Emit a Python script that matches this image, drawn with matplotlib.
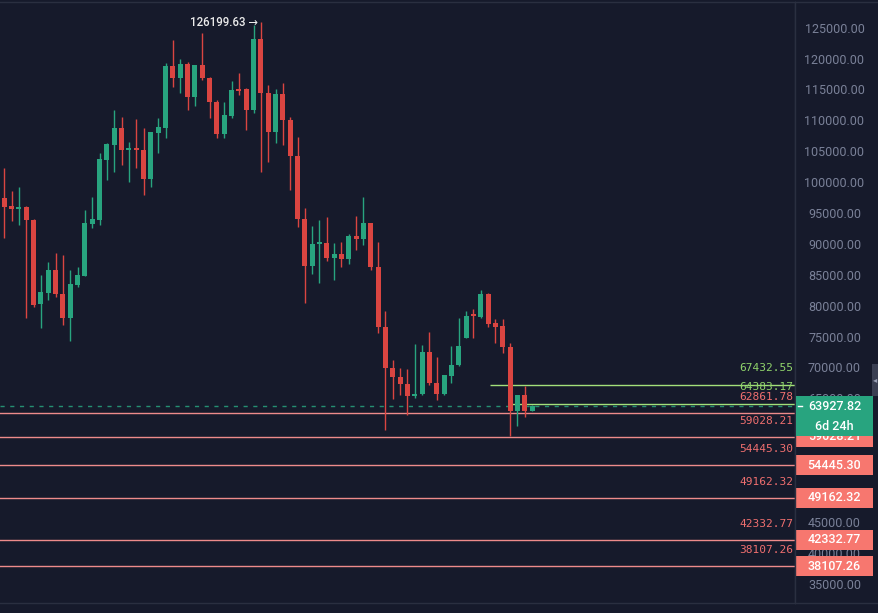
import numpy as np
import matplotlib.pyplot as plt
from matplotlib.patches import Rectangle

# daily candles, oldest first
opens = [97680, 96380, 95930, 96270, 94160, 80520, 82300, 86020, 82190, 78300,
         83600, 85050, 93470, 94120, 103830, 106260, 109010, 105450, 105770, 105500,
         100750, 108250, 109060, 119090, 117150, 119370, 114030, 119210, 117150, 113270,
         108040, 110950, 115320, 115270, 111920, 123370, 114720, 108410, 114480, 110300,
         104520, 94230, 86720, 90230, 90440, 88010, 88610, 87800, 91570, 90960,
         93680, 86510, 76840, 70210, 68750, 67520, 65680, 65950, 72750, 67780,
         65900, 68860, 70640, 75060, 78900, 78460, 82140, 77490, 76960, 73610,
         63250, 65790, 63250]
highs = [102530, 98780, 99460, 96410, 94280, 85260, 87370, 88730, 88420, 86020,
         86510, 95730, 97840, 104910, 106530, 111920, 110740, 106790, 110460, 108960,
         108410, 110580, 119480, 123250, 120130, 119740, 119210, 124430, 117310, 113540,
         113270, 116660, 117860, 115430, 125730, 126199.63, 115890, 115290, 116340, 110740,
         107500, 96010, 93140, 94120, 94550, 90440, 90550, 91850, 94760, 97890,
         93680, 90600, 79390, 71450, 70110, 69950, 74040, 73880, 76040, 71990,
         69030, 73720, 78300, 79430, 79660, 82790, 82250, 78040, 78040, 74160,
         65790, 67290, 64170]
lows = [91150, 94000, 93310, 78250, 80030, 76590, 81170, 81650, 77120, 74530,
        83220, 84990, 92770, 93310, 100590, 101930, 103020, 100220, 102580, 98160,
        99510, 105010, 107440, 115690, 114630, 111920, 112570, 116780, 110680, 107340,
        107340, 110580, 114350, 108680, 111390, 101930, 103550, 106630, 106260, 98970,
        93030, 80630, 85380, 83870, 87480, 84400, 86460, 86990, 89260, 90070,
        86100, 75780, 60120, 65090, 65790, 62550, 65250, 65790, 67410, 64980,
        65790, 67780, 70480, 74970, 74970, 78200, 76750, 74250, 72540, 59150,
        60820, 62280, 63250]
closes = [96270, 95930, 96190, 94160, 80360, 82430, 86020, 82190, 78300, 83760,
          85210, 93680, 94280, 103990, 106420, 109010, 105450, 105720, 105500, 100750,
          108410, 109220, 119090, 117150, 119370, 114030, 119210, 117150, 113270, 108040,
          111110, 115160, 115000, 111920, 123370, 114720, 108410, 114480, 110300, 104520,
          94230, 86720, 90230, 90440, 87920, 88610, 87800, 91570, 90960, 93680,
          86510, 76840, 70210, 68750, 67520, 65680, 65950, 72750, 67780, 65900,
          69030, 70640, 73720, 78580, 78530, 82140, 77280, 76840, 73610, 63250,
          65790, 63250, 63927.82]

last_price = 63927.82
countdown = '6d 24h'

red_levels = [62861.78, 59028.21, 54445.30, 49162.32, 42332.77, 38107.26]
green_levels = [67432.55, 64383.17]
green_start = [66.2, 69.3]   # candle index where the green lines begin

axis_ticks = np.arange(35000, 125001, 5000)

# colours
bg = '#161a2b'
up = '#28a47f'
down = '#da4541'
red_line = '#ee8b8b'
red_txt = '#f06f6f'
red_box = '#f7776f'
green_line = '#a3e07a'
green_txt = '#90d46b'
tick_col = '#7a8198'
border = '#2a2f40'

fig = plt.figure(figsize=(8.79, 6.13), dpi=100, facecolor=bg)
ax = fig.add_axes([0, 10 / 613, 795 / 879, 601 / 613])
ax2 = fig.add_axes([795 / 879, 10 / 613, 84 / 879, 601 / 613], sharey=ax)

for a in (ax, ax2):
    a.set_facecolor(bg)
    a.tick_params(left=False, bottom=False, right=False, top=False,
                  labelleft=False, labelbottom=False, labelright=False)
    for s in a.spines.values():
        s.set_color(border)
        s.set_linewidth(1)
ax.spines['left'].set_visible(False)
ax2.spines['right'].set_visible(False)

ax.set_xlim(-0.587, 107.87)
ax.set_ylim(32120, 129400)
ax2.set_xlim(0, 1)

# candles
o = np.array(opens, float)
h = np.array(highs, float)
l = np.array(lows, float)
c = np.array(closes, float)
x = np.arange(len(o))
cols = np.where(c >= o, up, down)
ax.vlines(x, l, h, colors=cols, linewidth=1.0, zorder=3)
body = np.maximum(np.abs(c - o), 260)
ax.bar(x, body, bottom=np.minimum(o, c), width=0.68, color=cols, linewidth=0, zorder=4)

# level lines with labels
ytr = ax.get_yaxis_transform()
for lv in red_levels:
    ax.axhline(lv, color=red_line, lw=1.0, zorder=2)
    ax.annotate(f'{lv:.2f}', xy=(1, lv), xycoords=ytr, xytext=(-2, 16),
                textcoords='offset pixels', ha='right', va='center',
                color=red_txt, fontsize=8, family='DejaVu Sans Mono')
for lv, s in zip(green_levels, green_start):
    ax.hlines(lv, s, ax.get_xlim()[1], color=green_line, lw=1.0, zorder=2)
    ax.annotate(f'{lv:.2f}', xy=(1, lv), xycoords=ytr, xytext=(-2, 17),
                textcoords='offset pixels', ha='right', va='center',
                color=green_txt, fontsize=8, family='DejaVu Sans Mono')

ax.axhline(last_price, color=up, lw=1.0, ls=(0, (3, 4)), alpha=0.85, zorder=2)

# all-time-high marker
i_hi = int(np.argmax(h))
ax.annotate(f'{h[i_hi]:.2f} →', xy=(i_hi, h[i_hi]), xytext=(-3, -1),
            textcoords='offset pixels', ha='right', va='center',
            color='#ececec', fontsize=8.3, family=['Roboto', 'DejaVu Sans'],
            fontweight='medium', zorder=6)

# price axis; ticks sitting right under a level box are not visible there
px = 161.87   # price units per pixel
for v in axis_ticks:
    if min(abs(v - lv) for lv in red_levels) < 7 * px:
        continue
    ax2.text(0.47, v, f'{v:.2f}', ha='center', va='center', color=tick_col,
             fontsize=9, family='Roboto', zorder=1)

box_h = 20 * px
for lv in red_levels:
    ax2.add_patch(Rectangle((0.012, lv - box_h / 2), 0.917, box_h,
                            color=red_box, lw=0, zorder=2))
    ax2.text(0.47, lv, f'{lv:.2f}', ha='center', va='center', color='white',
             fontsize=9, family='Roboto', fontweight='medium', zorder=2.1)

ax2.add_patch(Rectangle((0.012, last_price - box_h / 2), 0.917, box_h,
                        color=up, lw=0, zorder=3))
ax2.add_patch(Rectangle((0.012, last_price - 1.5 * box_h), 0.917, box_h,
                        color=up, lw=0, zorder=3))
ax2.text(0.47, last_price, f'{last_price:.2f}', ha='center', va='center',
         color='white', fontsize=9, family='Roboto', fontweight='medium', zorder=3.1)
ax2.text(0.47, last_price - box_h, countdown, ha='center', va='center',
         color='white', fontsize=9, family='Roboto', fontweight='medium', zorder=3.1)
ax2.plot([0.04, 0.085], [last_price, last_price], color='white', lw=1, zorder=3.2)

# little scroll tab on the edge
ax2.add_patch(Rectangle((0.917, 0.344), 0.07, 0.054, transform=ax2.transAxes,
                        color='#3a3f52', lw=0, zorder=4))
ax2.text(0.952, 0.371, '◂', transform=ax2.transAxes, ha='center', va='center',
         color='#9aa0b5', fontsize=6, family='DejaVu Sans', zorder=5)

fig.savefig('out.png', dpi=100, facecolor=bg)
